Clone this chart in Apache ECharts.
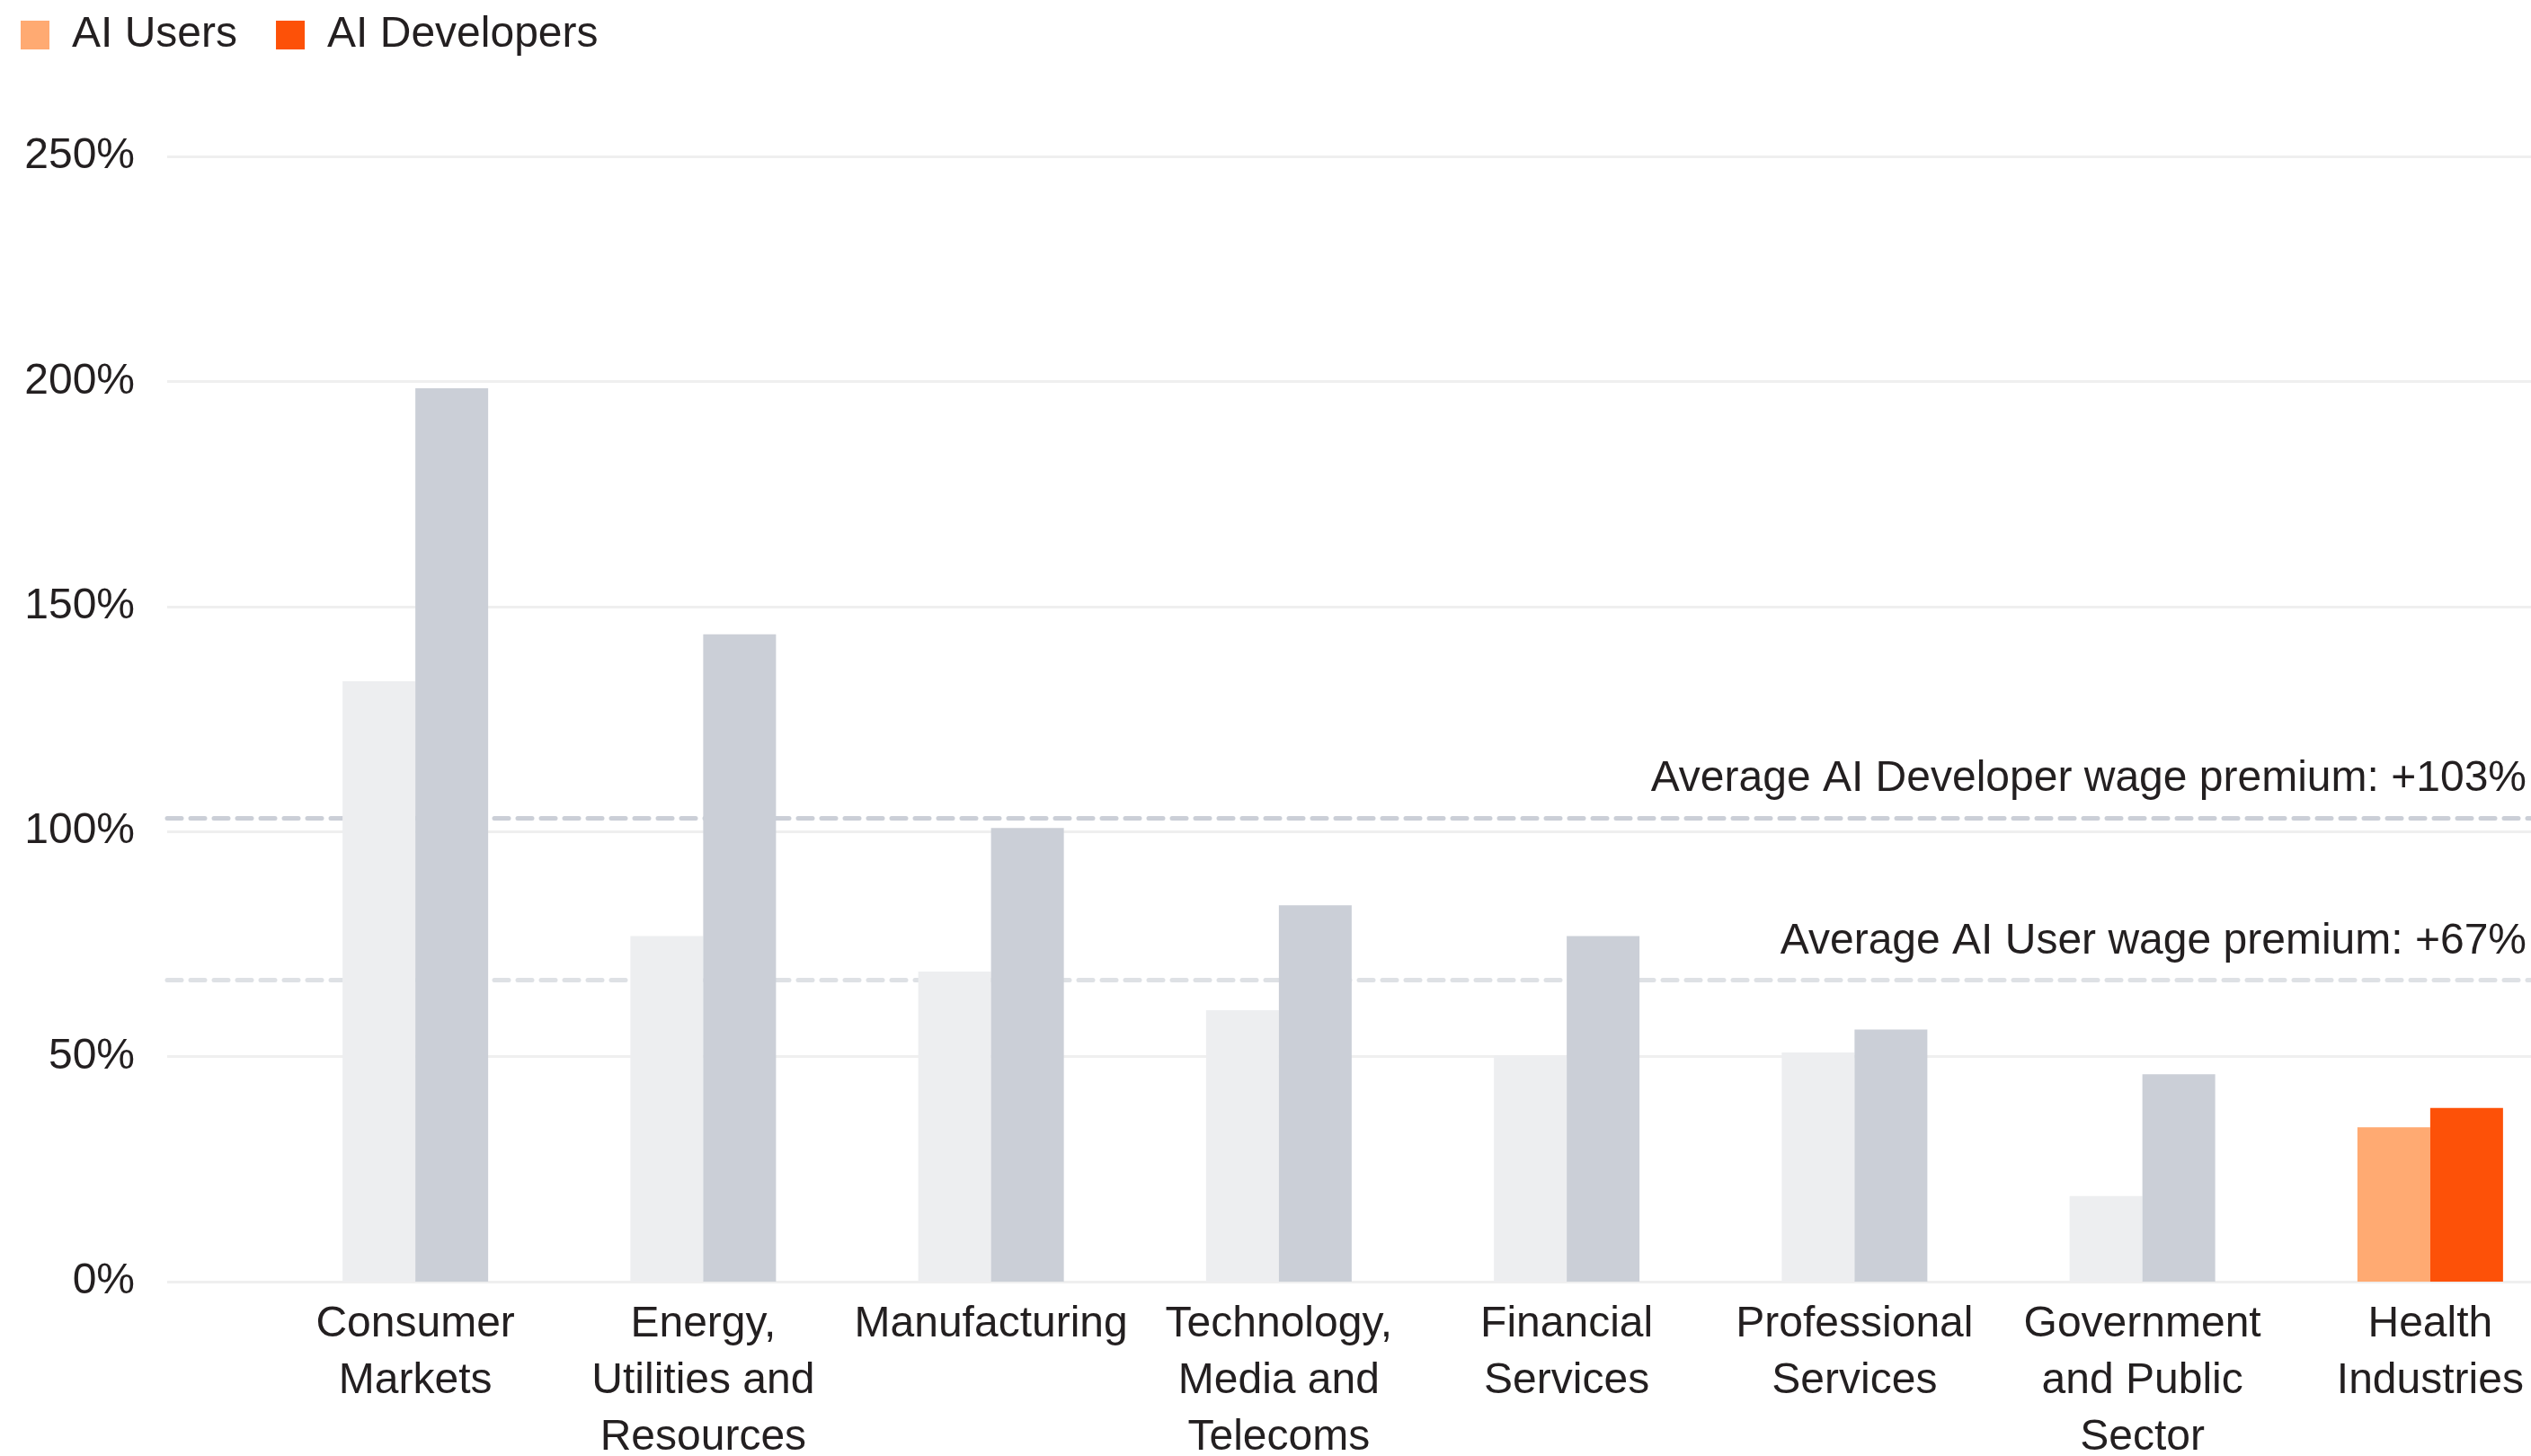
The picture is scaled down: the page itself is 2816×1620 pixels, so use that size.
<!DOCTYPE html>
<html>
<head>
<meta charset="utf-8">
<style>
  html, body { margin: 0; padding: 0; background: #ffffff; }
  #chart { width: 2816px; height: 1620px; }
</style>
<script src="https://cdn.jsdelivr.net/npm/echarts@6/dist/echarts.min.js"></script>
</head>
<body>
<div id="chart"></div>
<script>
// Wage premium by industry (%)
const categories = [
  'Consumer\nMarkets',
  'Energy,\nUtilities and\nResources',
  'Manufacturing',
  'Technology,\nMedia and\nTelecoms',
  'Financial\nServices',
  'Professional\nServices',
  'Government\nand Public\nSector',
  'Health\nIndustries'
];
const aiUsers      = [133.4, 76.8, 68.9, 60.3, 50.2, 50.9, 19.0, 34.3];
const aiDevelopers = [198.5, 143.8, 100.8, 83.6, 76.8, 56.0, 46.1, 38.6];
const avgDeveloperPremium = 103;
const avgUserPremium = 67;
const highlightIndex = 7; // Health Industries
const yTicks = [0, 50, 100, 150, 200, 250];

const FONT = '"Liberation Sans", Arial, Helvetica, sans-serif';
const TEXT = '#231f20';

function paint(values, muted) {
  return values.map((v, i) => i === highlightIndex ? v : { value: v, itemStyle: { color: muted } });
}

const chart = echarts.init(document.getElementById('chart'), null, { renderer: 'canvas' });

chart.setOption({
  animation: false,
  backgroundColor: '#ffffff',
  textStyle: { fontFamily: FONT },
  legend: {
    left: 23,
    top: 15,
    padding: 0,
    itemWidth: 32,
    itemHeight: 32,
    itemGap: 43,
    icon: 'rect',
    textStyle: { fontSize: 48, color: TEXT, fontFamily: FONT, lineHeight: 48, padding: [0, 0, 0, 20] },
    data: ['AI Users', 'AI Developers']
  },
  grid: [
    // gridlines, value labels and average lines
    { left: 186, right: 0, top: 174, bottom: 194, outerBoundsMode: 'none', containLabel: false },
    // bars and industry labels; the last band runs past the right edge
    { left: 302, width: 2562, top: 174, bottom: 194, outerBoundsMode: 'none', containLabel: false }
  ],
  xAxis: [
    { gridIndex: 0, type: 'value', min: 0, max: 1, show: false },
    {
      gridIndex: 1,
      type: 'category',
      data: categories,
      axisLine: { show: false },
      axisTick: { show: false },
      axisLabel: {
        interval: 0,
        margin: 16,
        fontSize: 48,
        lineHeight: 63,
        color: TEXT,
        fontFamily: FONT,
        verticalAlign: 'top'
      }
    }
  ],
  yAxis: [
    {
      gridIndex: 0,
      type: 'value',
      min: yTicks[0],
      max: yTicks[yTicks.length - 1],
      interval: yTicks[1] - yTicks[0],
      axisLine: { show: false },
      axisTick: { show: false },
      axisLabel: {
        margin: 36,
        fontSize: 48,
        color: TEXT,
        fontFamily: FONT,
        verticalAlign: 'middle',
        padding: [6, 0, 0, 0],
        formatter: '{value}%'
      },
      splitLine: { lineStyle: { color: '#efefef', width: 3 } }
    },
    {
      gridIndex: 1,
      type: 'value',
      min: yTicks[0],
      max: yTicks[yTicks.length - 1],
      interval: yTicks[1] - yTicks[0],
      show: false,
      splitLine: { show: false }
    }
  ],
  series: [
    {
      name: 'averages',
      type: 'line',
      xAxisIndex: 0,
      yAxisIndex: 0,
      data: [],
      z: 1,
      silent: true,
      markLine: {
        silent: true,
        symbol: ['none', 'none'],
        z: 1,
        label: {
          position: 'insideEndTop',
          distance: [5, 19],
          fontSize: 48,
          color: TEXT,
          fontFamily: FONT
        },
        data: [
          {
            yAxis: avgDeveloperPremium,
            label: { formatter: 'Average AI Developer wage premium: +' + avgDeveloperPremium + '%' },
            lineStyle: { color: '#cbcfd7', width: 5, type: [16, 10], cap: 'round' }
          },
          {
            yAxis: avgUserPremium,
            label: { formatter: 'Average AI User wage premium: +' + avgUserPremium + '%' },
            lineStyle: { color: '#dee1e5', width: 5, type: [16, 10], cap: 'round' }
          }
        ]
      }
    },
    {
      name: 'AI Users',
      type: 'bar',
      xAxisIndex: 1,
      yAxisIndex: 1,
      barWidth: 81,
      barGap: '0%',
      z: 3,
      itemStyle: { color: '#ffaa72' },
      data: paint(aiUsers, '#edeef0')
    },
    {
      name: 'AI Developers',
      type: 'bar',
      xAxisIndex: 1,
      yAxisIndex: 1,
      barWidth: 81,
      barGap: '0%',
      z: 3,
      itemStyle: { color: '#fd5108' },
      data: paint(aiDevelopers, '#cbcfd7')
    }
  ]
});
</script>
</body>
</html>
